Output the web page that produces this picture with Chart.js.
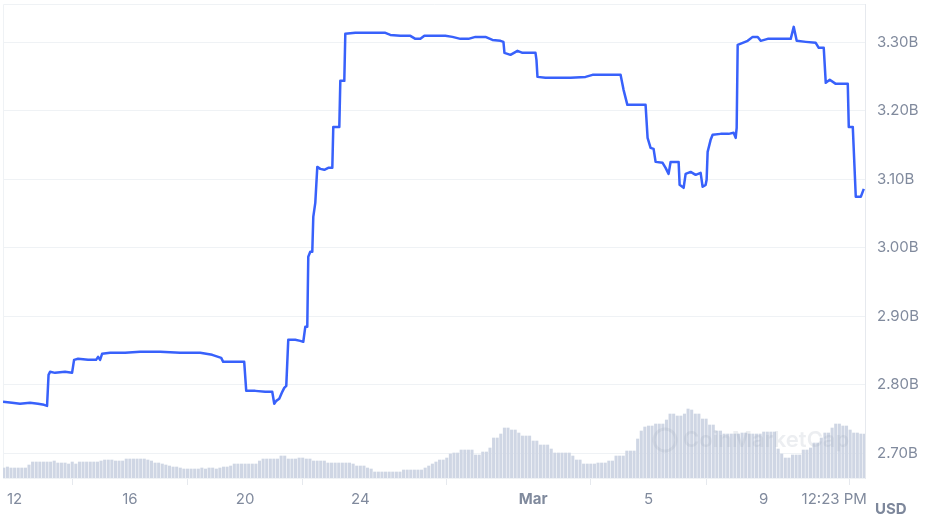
<!DOCTYPE html>
<html>
<head>
<meta charset="utf-8">
<script src="https://cdn.jsdelivr.net/npm/chart.js@4.4.1/dist/chart.umd.min.js"></script>
<style>
  html, body { margin: 0; padding: 0; background: #fff; }
</style>
</head>
<body>
<canvas id="grafico" width="931" height="526"></canvas>
<script>
// dias contados a partir de 12 fev 00:00 (0 = 12 fev)
const priceDays = [
  -0.403, -0.090, 0.188, 0.535, 0.813, 1.021, 1.126, 1.178, 1.230, 1.403,
  1.751, 1.994, 2.064, 2.203, 2.550, 2.828, 2.897, 2.967, 3.036, 3.314,
  3.835, 4.356, 5.051, 5.746, 6.441, 6.858, 7.066, 7.170, 7.240, 7.657,
  7.969, 8.039, 8.352, 8.699, 8.942, 9.012, 9.081, 9.185, 9.290, 9.359,
  9.429, 9.498, 9.741, 9.915, 10.019, 10.089, 10.158, 10.193, 10.262, 10.332,
  10.367, 10.436, 10.506, 10.610, 10.749, 10.888, 11.027, 11.061, 11.270, 11.305,
  11.443, 11.478, 11.826, 12.173, 12.520, 12.868, 13.042, 13.389, 13.736, 13.910,
  14.084, 14.223, 14.605, 14.952, 15.195, 15.473, 15.751, 15.994, 16.342, 16.585,
  16.863, 16.967, 17.002, 17.210, 17.454, 17.627, 18.079, 18.113, 18.148, 18.426,
  18.774, 19.295, 19.816, 20.059, 20.511, 21.032, 21.136, 21.268, 21.588, 21.900,
  21.970, 22.074, 22.178, 22.248, 22.491, 22.595, 22.699, 22.769, 23.047, 23.082,
  23.221, 23.290, 23.464, 23.638, 23.811, 23.880, 23.985, 24.019, 24.054, 24.158,
  24.228, 24.506, 24.784, 24.958, 25.027, 25.062, 25.097, 25.270, 25.444, 25.618,
  25.792, 25.896, 26.139, 26.590, 26.938, 27.042, 27.146, 27.459, 27.806, 27.911,
  28.084, 28.154, 28.293, 28.501, 28.918, 28.953, 29.092, 29.196, 29.370, 29.474
];
// valor em bilhoes de USD
const priceValues = [
  2.7752, 2.7737, 2.7723, 2.7737, 2.7723, 2.7708, 2.7693, 2.8146, 2.8190, 2.8175,
  2.8190, 2.8175, 2.8365, 2.8380, 2.8365, 2.8365, 2.8409, 2.8365, 2.8453, 2.8467,
  2.8467, 2.8482, 2.8482, 2.8467, 2.8467, 2.8438, 2.8409, 2.8394, 2.8336, 2.8336,
  2.8336, 2.7912, 2.7912, 2.7898, 2.7898, 2.7723, 2.7766, 2.7796, 2.7898, 2.7956,
  2.7985, 2.8657, 2.8657, 2.8642, 2.8628, 2.8847, 2.8847, 2.9869, 2.9942, 2.9942,
  3.0453, 3.0657, 3.1182, 3.1153, 3.1139, 3.1168, 3.1168, 3.1766, 3.1766, 3.2438,
  3.2438, 3.3124, 3.3139, 3.3139, 3.3139, 3.3139, 3.3109, 3.3095, 3.3095, 3.3051,
  3.3051, 3.3095, 3.3095, 3.3095, 3.3080, 3.3051, 3.3051, 3.3080, 3.3080, 3.3036,
  3.3022, 3.3007, 3.2847, 3.2818, 3.2876, 3.2847, 3.2847, 3.2745, 3.2496, 3.2482,
  3.2482, 3.2482, 3.2496, 3.2526, 3.2526, 3.2526, 3.2307, 3.2088, 3.2088, 3.2088,
  3.1606, 3.1460, 3.1445, 3.1255, 3.1241, 3.1168, 3.1080, 3.1255, 3.1255, 3.0920,
  3.0876, 3.1080, 3.1109, 3.1066, 3.1095, 3.0891, 3.0920, 3.0993, 3.1401, 3.1577,
  3.1650, 3.1664, 3.1664, 3.1679, 3.1606, 3.1752, 3.2964, 3.2993, 3.3022, 3.3080,
  3.3080, 3.3022, 3.3051, 3.3051, 3.3051, 3.3226, 3.3022, 3.3007, 3.2993, 3.2920,
  3.2920, 3.2409, 3.2453, 3.2394, 3.2394, 3.1766, 3.1766, 3.0745, 3.0745, 3.0861
];

// volume a cada 3 horas (unidade relativa)
const volumeStart = -0.375;
const volumeStep = 0.125;
const volumes = [
  10, 11, 10, 10, 10, 10, 10, 13, 16, 16,
  16, 16, 16, 16, 17, 15, 15, 15, 14, 16,
  14, 16, 16, 16, 16, 16, 16, 17, 18, 18,
  18, 17, 17, 17, 19, 19, 19, 19, 19, 19,
  18, 17, 15, 15, 14, 13, 12, 11, 11, 10,
  9, 9, 9, 9, 9, 10, 9, 10, 10, 9,
  10, 11, 11, 12, 14, 14, 14, 14, 14, 14,
  14, 17, 19, 19, 19, 19, 19, 22, 22, 19,
  19, 19, 20, 20, 19, 19, 17, 17, 17, 17,
  15, 15, 15, 15, 15, 15, 15, 14, 12, 12,
  12, 10, 9, 6, 6, 6, 6, 6, 6, 6,
  6, 8, 8, 8, 8, 8, 8, 10, 12, 14,
  16, 18, 18, 20, 24, 25, 25, 28, 28, 28,
  28, 23, 23, 26, 26, 30, 40, 40, 44, 50,
  50, 48, 48, 45, 42, 42, 42, 37, 37, 33,
  33, 33, 29, 25, 25, 25, 25, 25, 22, 18,
  18, 14, 14, 14, 14, 15, 15, 15, 17, 17,
  22, 22, 22, 27, 27, 27, 39, 47, 51, 52,
  52, 54, 54, 54, 58, 64, 64, 62, 62, 64,
  69, 68, 64, 64, 59, 59, 53, 53, 47, 47,
  44, 44, 44, 44, 44, 45, 45, 44, 44, 44,
  44, 46, 46, 46, 46, 29, 24, 20, 20, 23,
  23, 23, 28, 28, 30, 35, 35, 40, 45, 45,
  50, 54, 54, 52, 52, 48, 45, 45, 44, 44
];

const xMin = -0.403;
const xMax = 29.516;
const tickDays = [0, 4, 8, 12, 18, 22, 26, 28.449, 29.516];
const tickLabels = ['12', '16', '20', '24', 'Mar', '5', '9', '12:23 PM', ''];
const yTicks = [2.7, 2.8, 2.9, 3.0, 3.1, 3.2, 3.3];

const cinza = '#808a9d';
const linhaGrade = '#eff2f5';

// moldura + marca d'agua + USD
const extras = {
  id: 'extras',
  beforeDatasetsDraw(chart) {
    const a = chart.chartArea, ctx = chart.ctx;
    ctx.save();
    ctx.strokeStyle = linhaGrade;
    ctx.lineWidth = 1;
    ctx.beginPath();
    ctx.moveTo(a.left + 0.5, a.bottom);
    ctx.lineTo(a.left + 0.5, a.top + 0.5);
    ctx.lineTo(a.right, a.top + 0.5);
    ctx.stroke();
    ctx.restore();
  },
  afterDatasetsDraw(chart) {
    const ctx = chart.ctx;
    ctx.save();
    ctx.fillStyle = 'rgba(150,160,180,0.18)';
    ctx.strokeStyle = 'rgba(150,160,180,0.18)';
    ctx.lineWidth = 3;
    ctx.beginPath();
    ctx.arc(665, 440, 11, 0, Math.PI * 2);
    ctx.stroke();
    ctx.font = '600 22px Inter';
    ctx.textBaseline = 'middle';
    ctx.fillText('CoinMarketCap', 683, 440);
    ctx.restore();
  },
  afterDraw(chart) {
    const ctx = chart.ctx;
    ctx.save();
    ctx.font = 'bold 15px Inter';
    ctx.fillStyle = '#7d879b';
    ctx.textBaseline = 'middle';
    ctx.fillText('USD', 875, 509);
    ctx.restore();
  }
};

new Chart(document.getElementById('grafico'), {
  type: 'bar',
  data: {
    datasets: [
      {
        type: 'line',
        data: priceDays.map((d, i) => ({ x: d, y: priceValues[i] })),
        borderColor: '#3861fb',
        borderWidth: 2.5,
        borderJoinStyle: 'round',
        pointRadius: 0,
        tension: 0,
        yAxisID: 'y',
        order: 1
      },
      {
        type: 'bar',
        data: volumes.map((v, i) => ({ x: volumeStart + i * volumeStep, y: v })),
        backgroundColor: '#cfd6e4',
        barThickness: 2.4,
        yAxisID: 'yv',
        order: 2
      }
    ]
  },
  options: {
    responsive: false,
    animation: false,
    devicePixelRatio: 1,
    layout: { padding: { left: 3, top: 4, right: 0, bottom: 0 } },
    plugins: { legend: { display: false }, tooltip: { enabled: false } },
    scales: {
      x: {
        type: 'linear',
        min: xMin,
        max: xMax,
        offset: false,
        afterBuildTicks: axis => { axis.ticks = tickDays.map(v => ({ value: v })); },
        afterFit: scale => {
          scale.height = 48;
          scale.paddingLeft = 0;
          scale.paddingRight = 0;
        },
        grid: {
          drawOnChartArea: false,
          drawTicks: true,
          tickLength: 7,
          tickColor: c => (c.index === 7 ? 'rgba(0,0,0,0)' : '#e6e9ee')
        },
        border: { display: true, color: linhaGrade },
        ticks: {
          autoSkip: false,
          maxRotation: 0,
          padding: 5,
          color: cinza,
          font: c => ({ family: 'Inter', size: 15, weight: tickLabels[c.index] === 'Mar' ? 'bold' : 'normal' }),
          callback: (v, i) => tickLabels[i]
        }
      },
      y: {
        position: 'right',
        min: 2.664,
        max: 3.356,
        afterBuildTicks: axis => { axis.ticks = yTicks.map(v => ({ value: v })); },
        afterFit: scale => {
          scale.width = 66;
          scale.paddingTop = 0;
          scale.paddingBottom = 0;
        },
        grid: { color: linhaGrade, drawTicks: false },
        border: { display: true, color: '#e6e9ee' },
        ticks: {
          padding: 12,
          color: cinza,
          font: { family: 'Inter', size: 15 },
          callback: v => v.toFixed(2) + 'B'
        }
      },
      yv: {
        display: false,
        min: 0,
        max: 474
      }
    }
  },
  plugins: [extras]
});
</script>
</body>
</html>
